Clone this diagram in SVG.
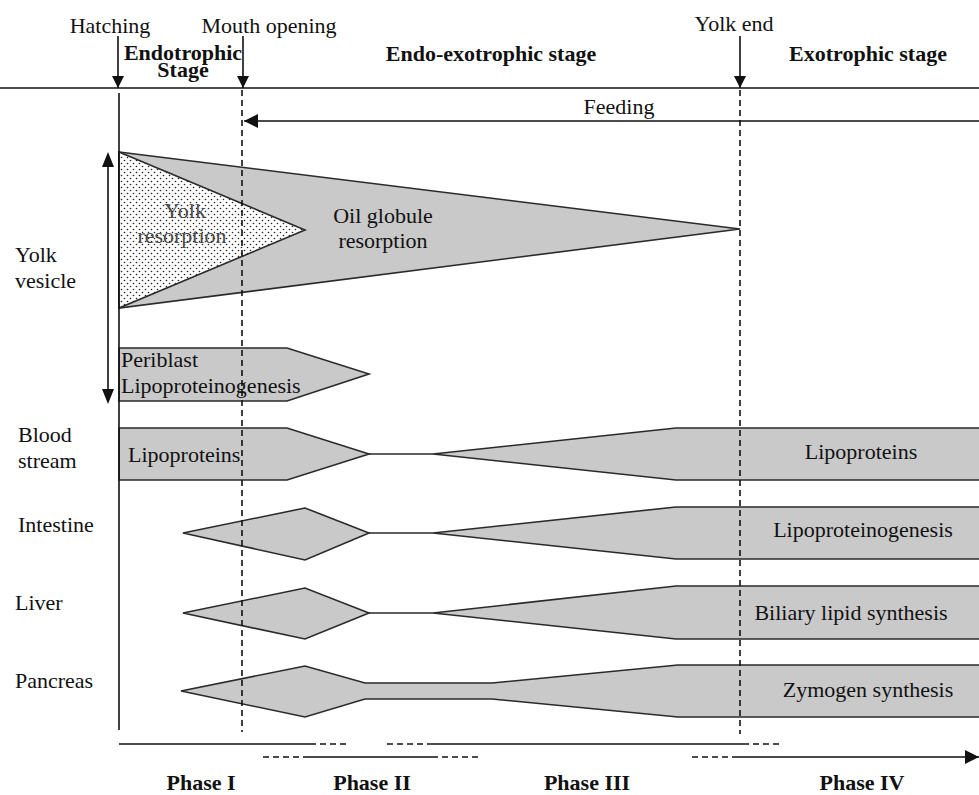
<svg xmlns="http://www.w3.org/2000/svg" width="979" height="795" viewBox="0 0 979 795">
<style>
text{font-family:"Liberation Serif","Times New Roman",serif;font-size:22px;fill:#111}
.b{font-weight:bold}
.m{text-anchor:middle}
.shape{fill:#c9c9c9;stroke:#2a2a2a;stroke-width:1.6;stroke-linejoin:miter}
.ln{stroke:#111;stroke-width:1.6;fill:none}
.thin{stroke:#2a2a2a;stroke-width:1.6;fill:none}
.dash{stroke:#111;stroke-width:1.6;fill:none;stroke-dasharray:6 4}
.yt{fill:#4a4a4a}
</style>
<defs>
<pattern id="dots" width="6" height="6" patternUnits="userSpaceOnUse">
<rect width="6" height="6" fill="#fff"/>
<circle cx="1.5" cy="1.5" r="0.8" fill="#222"/>
<circle cx="4.5" cy="4.5" r="0.8" fill="#222"/>
</pattern>
<marker id="ah" viewBox="0 0 12 12" refX="12" refY="6" markerWidth="12" markerHeight="12" markerUnits="userSpaceOnUse" orient="auto-start-reverse">
<path d="M0,0 L12,6 L0,12 Z" fill="#111"/>
</marker>
<marker id="ahb" viewBox="0 0 14 14" refX="14" refY="7" markerWidth="14" markerHeight="14" markerUnits="userSpaceOnUse" orient="auto-start-reverse">
<path d="M0,0 L14,7 L0,14 Z" fill="#111"/>
</marker>
</defs>
<rect width="979" height="795" fill="#fff"/>

<g id="header">
<text class="m" x="110" y="33">Hatching</text>
<text class="m" x="269" y="33">Mouth opening</text>
<text class="m" x="734" y="31">Yolk end</text>
<text class="b m" x="183" y="60">Endotrophic</text>
<text class="b m" x="183" y="77">Stage</text>
<text class="b m" x="491" y="61">Endo-exotrophic stage</text>
<text class="b m" x="868" y="61">Exotrophic stage</text>
<text class="m" x="619" y="114">Feeding</text>
</g>

<g id="row-labels">
<text x="15" y="262">Yolk</text>
<text x="15" y="288">vesicle</text>
<text x="18" y="442">Blood</text>
<text x="18" y="468">stream</text>
<text x="18" y="532">Intestine</text>
<text x="15" y="610">Liver</text>
<text x="15" y="688">Pancreas</text>
</g>

<g id="oil-globule">
<path class="shape" d="M119,152 L740,229 L119,308 Z"/>
<text class="m" x="383" y="223">Oil globule</text>
<text class="m" x="383" y="248">resorption</text>
</g>
<g id="yolk-resorption">
<path d="M119,152 L305,230 L119,308 Z" fill="url(#dots)" stroke="#2a2a2a" stroke-width="1.6"/>
<text class="m yt" x="185" y="218">Yolk</text>
<text class="m yt" x="182" y="243">resorption</text>
</g>

<g id="periblast">
<path class="shape" d="M119,348 L287,348 L369,374 L287,401 L119,401 Z"/>
<text x="121" y="367">Periblast</text>
<text x="121" y="393">Lipoproteinogenesis</text>
</g>

<g id="blood-stream">
<path class="shape" d="M119,428 L287,428 L369,454 L287,480 L119,480 Z"/>
<line class="thin" x1="369" y1="454" x2="433" y2="454"/>
<path class="shape" d="M433,454 L676,428 L990,428 L990,480 L676,480 Z"/>
<text x="128" y="462">Lipoproteins</text>
<text class="m" x="861" y="459">Lipoproteins</text>
</g>

<g id="intestine">
<path class="shape" d="M183,533 L305,508 L369,533 L305,560 Z"/>
<line class="thin" x1="369" y1="533" x2="433" y2="533"/>
<path class="shape" d="M433,533 L676,507 L990,507 L990,559 L676,559 Z"/>
<text class="m" x="863" y="537">Lipoproteinogenesis</text>
</g>

<g id="liver">
<path class="shape" d="M183,613 L305,588 L369,613 L305,639 Z"/>
<line class="thin" x1="369" y1="613" x2="433" y2="613"/>
<path class="shape" d="M433,613 L676,586 L990,586 L990,639 L676,639 Z"/>
<text class="m" x="851" y="620">Biliary lipid synthesis</text>
</g>

<g id="pancreas">
<path class="shape" d="M181,691 L305,666 L365,683 L492,683 L678,665 L990,665 L990,717 L678,717 L492,699 L365,699 L305,717 Z"/>
<text class="m" x="868" y="697">Zymogen synthesis</text>
</g>

<g id="connectors">
<line class="ln" x1="0" y1="88" x2="979" y2="88"/>
<line class="ln" x1="118" y1="36" x2="118" y2="88" marker-end="url(#ah)"/>
<line class="ln" x1="243" y1="36" x2="243" y2="88" marker-end="url(#ah)"/>
<line class="ln" x1="740" y1="36" x2="740" y2="88" marker-end="url(#ah)"/>
<line class="ln" x1="119" y1="93" x2="119" y2="730"/>
<line class="dash" x1="242" y1="90" x2="242" y2="732"/>
<line class="dash" x1="740" y1="90" x2="740" y2="734"/>
<line class="ln" x1="979" y1="121" x2="244" y2="121" marker-end="url(#ahb)"/>
<line class="ln" x1="108" y1="166" x2="108" y2="389"/>
<path d="M108,152 L102,167 L114,167 Z" fill="#111"/>
<path d="M108,404 L102,389 L114,389 Z" fill="#111"/>
<line class="ln" x1="119" y1="744" x2="310" y2="744"/>
<line class="dash" x1="310" y1="744" x2="350" y2="744"/>
<line class="dash" x1="263" y1="757" x2="303" y2="757"/>
<line class="ln" x1="303" y1="757" x2="432" y2="757"/>
<line class="dash" x1="432" y1="757" x2="478" y2="757"/>
<line class="dash" x1="387" y1="744" x2="427" y2="744"/>
<line class="ln" x1="427" y1="744" x2="743" y2="744"/>
<line class="dash" x1="743" y1="744" x2="780" y2="744"/>
<line class="dash" x1="692" y1="757" x2="735" y2="757"/>
<line class="ln" x1="735" y1="757" x2="979" y2="757" marker-end="url(#ahb)"/>
</g>

<g id="phases">
<text class="b m" x="201" y="790">Phase I</text>
<text class="b m" x="372" y="790">Phase II</text>
<text class="b m" x="587" y="790">Phase III</text>
<text class="b m" x="862" y="790">Phase IV</text>
</g>
</svg>
